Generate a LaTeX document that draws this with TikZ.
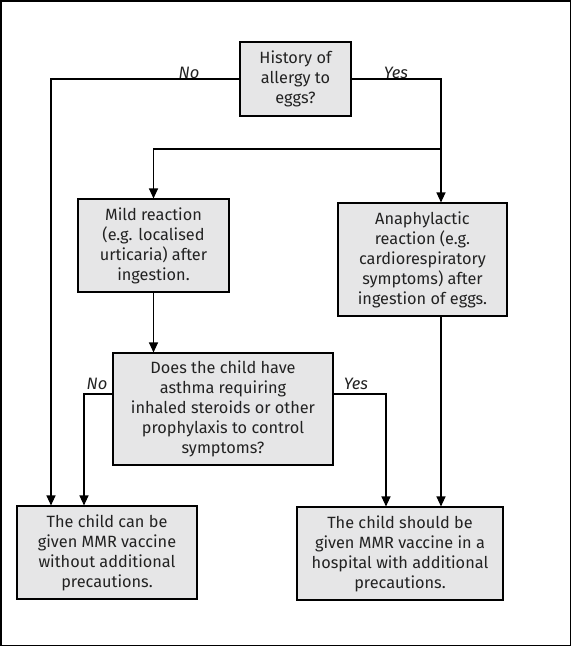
\documentclass[tikz,border=0pt]{standalone}
\usepackage{fontspec}
\setmainfont{Fira Sans}
\usetikzlibrary{arrows.meta}
\definecolor{boxgray}{HTML}{E6E6E7}
\definecolor{inkgray}{HTML}{222222}
\tikzset{
  qbox/.style={draw, line width=1.1pt, fill=boxgray, align=center, inner sep=0pt,
    font=\fontsize{16.3}{20}\selectfont, text=inkgray},
  arr/.style={line width=1.1pt, -{Triangle[length=10pt,width=9pt]}},
  lbl/.style={font=\fontsize{16.5}{18}\selectfont\itshape, text=inkgray, anchor=base}
}
\begin{document}
\begin{tikzpicture}[x=1pt,y=-1pt]
  \useasboundingbox (0,0) rectangle (571,646);
  \draw[line width=1.5pt] (0.75,0.75) rectangle (570.25,645.25);
  \node[qbox, minimum width=111pt, minimum height=74pt] (hist) at (295.5,79)
    {History of\\allergy to\\eggs?};
  \node[qbox, minimum width=151pt, minimum height=93pt] (mild) at (153.5,245.5)
    {Mild reaction\\(e.g. localised\\urticaria) after\\ingestion.};
  \node[qbox, minimum width=169pt, minimum height=113pt] (anaph) at (422.5,259.5)
    {Anaphylactic\\reaction (e.g.\\cardiorespiratory\\symptoms) after\\ingestion of eggs.};
  \node[qbox, minimum width=220pt, minimum height=112pt] (asthma) at (223,409)
    {Does the child have\\asthma requiring\\inhaled steroids or other\\prophylaxis to control\\symptoms?};
  \node[qbox, minimum width=180pt, minimum height=93pt] (canbe) at (107,552.5)
    {The child can be\\given MMR vaccine\\without additional\\precautions.};
  \node[qbox, minimum width=206pt, minimum height=93pt] (should) at (400,553.5)
    {The child should be\\given MMR vaccine in a\\hospital with additional\\precautions.};
  \coordinate (split) at (441,149);

  \draw[arr] (hist.west) -| ([xshift=-56pt]canbe.north);
  \draw[arr] (hist.east) -| ([xshift=18.5pt]anaph.north);
  \draw[arr] (split) -| (mild.north);
  \draw[arr] (mild.south) -- (mild.south |- asthma.north);
  \draw[arr] ([yshift=15pt]asthma.west) -| ([xshift=-23pt]canbe.north);
  \draw[arr] ([yshift=15pt]asthma.east) -| ([xshift=-14pt]should.north);
  \draw[arr] ([xshift=18.5pt]anaph.south) -- ([xshift=41pt]should.north);

  \node[lbl] (no1) at (189,78) {No};
  \node[lbl] (yes1) at (396,78) {Yes};
  \node[lbl] (no2) at (97,389) {No};
  \node[lbl] (yes2) at (356,389) {Yes};
\end{tikzpicture}
\end{document}
